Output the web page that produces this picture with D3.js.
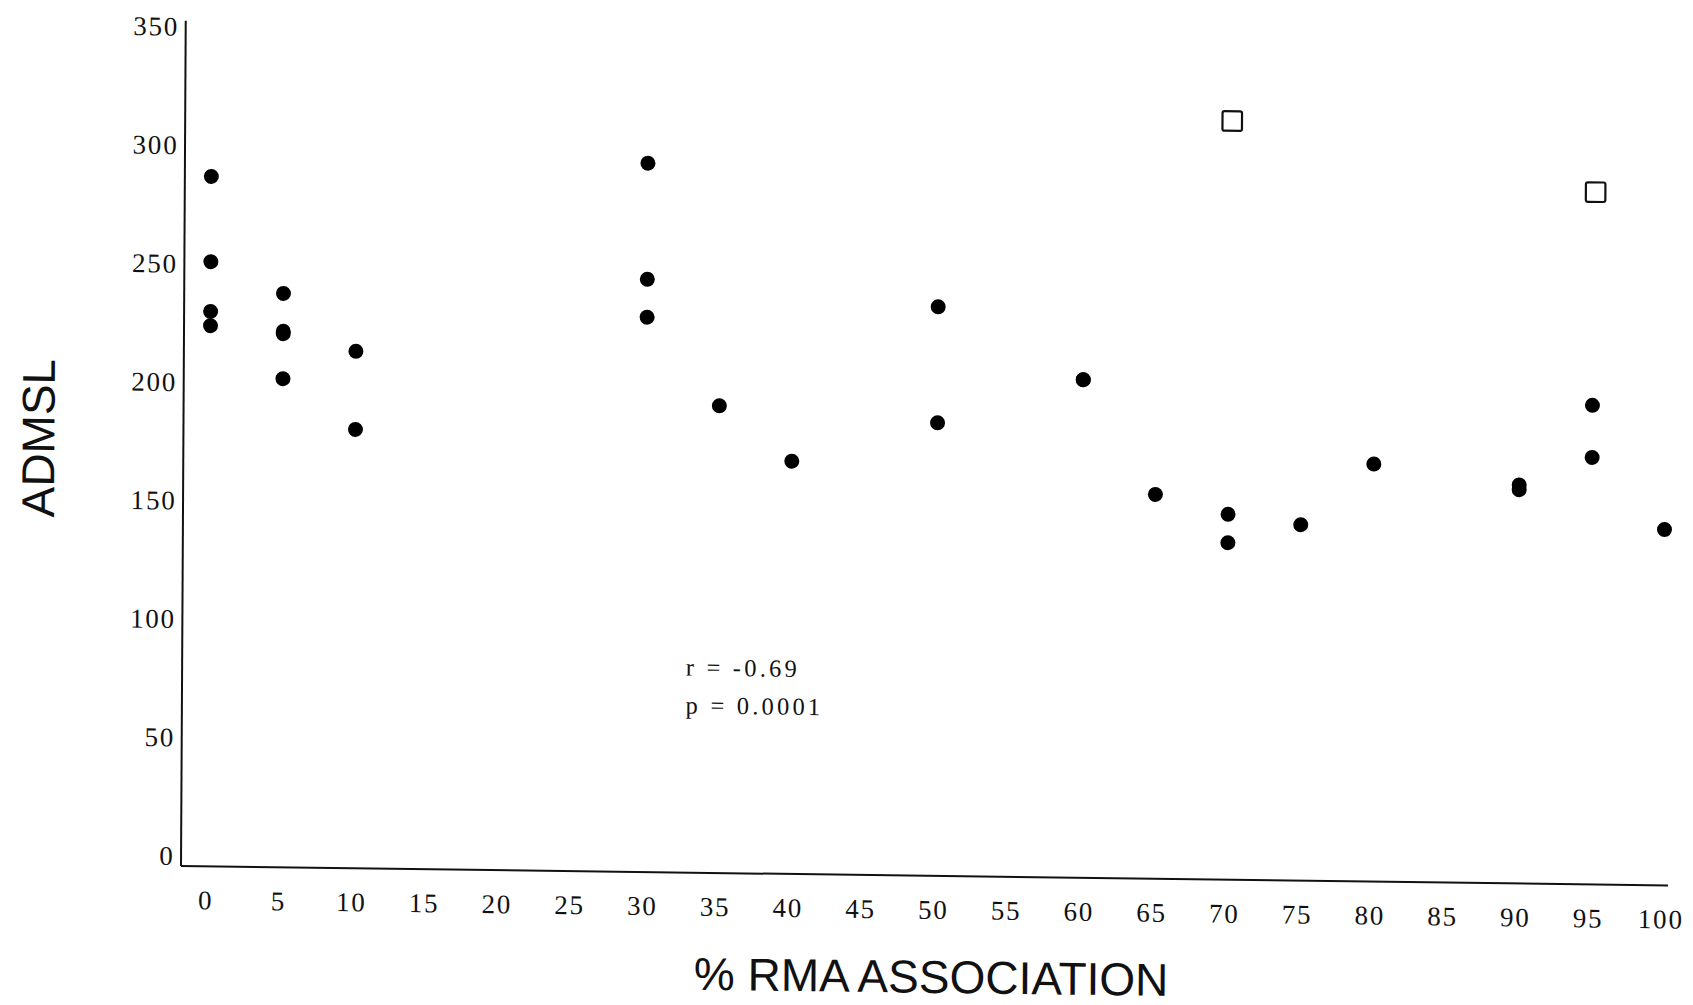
<!DOCTYPE html>
<html>
<head>
<meta charset="utf-8">
<script src="https://cdn.jsdelivr.net/npm/d3@7"></script>
<style>
body { margin: 0; background: white; }
.tick { font-family: 'Liberation Serif', 'Times New Roman', serif; font-size: 27px; letter-spacing: 1.8px; fill: #111; }
.title { font-family: 'Liberation Sans', Arial, sans-serif; font-size: 46px; fill: #111; }
.note { font-family: 'Liberation Serif', 'Times New Roman', serif; font-size: 24.5px; letter-spacing: 3.2px; fill: #111; }
</style>
</head>
<body>
<div id="plot"></div>
<script>
// filled dots: % RMA association vs ADMSL
var rmaX   = [0, 0, 0, 0, 5, 5, 5, 5, 10, 10, 30, 30, 30, 35, 40, 50, 50, 60, 60, 65, 70, 70, 75, 80, 90, 90, 95, 95, 100];
var admslY = [287, 251, 230, 224, 238, 222, 221, 202, 214, 181, 295, 246, 230, 193, 170, 236, 187, 206, 206, 158, 150, 138, 146, 172, 164, 162, 198, 176, 146];

// open squares
var outlierX = [70, 95];
var outlierY = [316, 288];

var xTicks = d3.range(0, 101, 5);
var yTicks = d3.range(0, 351, 50);
var stats = ['r = -0.69', 'p = 0.0001'];

// CREATE PLOT

var width = 1693, height = 1005;

var x = d3.scaleLinear().domain([0, 100]).range([207.5, 1662.5]);
var y = d3.scaleLinear().domain([0, 350]).range([856, 26.8]);

var svg = d3.select('#plot').append('svg')
    .attr('width', width)
    .attr('height', height)
    .append('g')
        // the scanned page sits a little crooked
        .attr('transform', 'matrix(1,0.0131,-0.0056,1,4.85,-2.37)');

var axisX = x(0) - 26.5, axisY = y(0) + 10;

svg.append('line')
    .attr('x1', axisX).attr('y1', axisY)
    .attr('x2', x(100) + 5.5).attr('y2', axisY)
    .attr('stroke', '#111')
    .attr('stroke-width', 2);
svg.append('line')
    .attr('x1', axisX).attr('y1', y(350) - 6)
    .attr('x2', axisX).attr('y2', axisY)
    .attr('stroke', '#111')
    .attr('stroke-width', 2);

svg.selectAll('.xlab')
    .data(xTicks)
    .enter()
    .append('text')
    .attr('class', 'tick xlab')
    .attr('x', function(d) { return x(d) - 1.5; })
    .attr('y', y(0) + 53)
    .style('text-anchor', 'middle')
    .text(function(d) { return d; });

svg.selectAll('.ylab')
    .data(yTicks)
    .enter()
    .append('text')
    .attr('class', 'tick ylab')
    .attr('x', axisX - 6.5)
    .attr('y', function(d) { return y(d); })
    .attr('dominant-baseline', 'central')
    .style('text-anchor', 'end')
    .text(function(d) { return d; });

svg.append('text')
    .attr('class', 'title')
    .attr('transform', 'translate(52,440) rotate(-90)')
    .style('text-anchor', 'middle')
    .text('ADMSL');
svg.append('text')
    .attr('class', 'title')
    .attr('x', 931.7)
    .attr('y', 983)
    .style('text-anchor', 'middle')
    .text('% RMA ASSOCIATION');

// POINTS

svg.selectAll('.dot')
    .data(rmaX)
    .enter()
    .append('circle')
    .attr('class', 'dot')
    .attr('cx', function(d) { return x(d); })
    .attr('cy', function(d, i) { return y(admslY[i]); })
    .attr('r', 7.5)
    .attr('fill', '#000');

var side = 19.5;
svg.selectAll('.sq')
    .data(outlierX)
    .enter()
    .append('rect')
    .attr('class', 'sq')
    .attr('x', function(d) { return x(d) + 2 - side / 2; })
    .attr('y', function(d, i) { return y(outlierY[i]) - side / 2; })
    .attr('width', side)
    .attr('height', side)
    .attr('rx', 2)
    .attr('fill', 'white')
    .attr('stroke', '#111')
    .attr('stroke-width', 2.2);

// WRITE TEXT

svg.selectAll('.note')
    .data(stats)
    .enter()
    .append('text')
    .attr('class', 'note')
    .attr('x', x(32.8))
    .attr('y', function(d, i) { return y(79) + i * 38; })
    .text(function(d) { return d; });
</script>
</body>
</html>
